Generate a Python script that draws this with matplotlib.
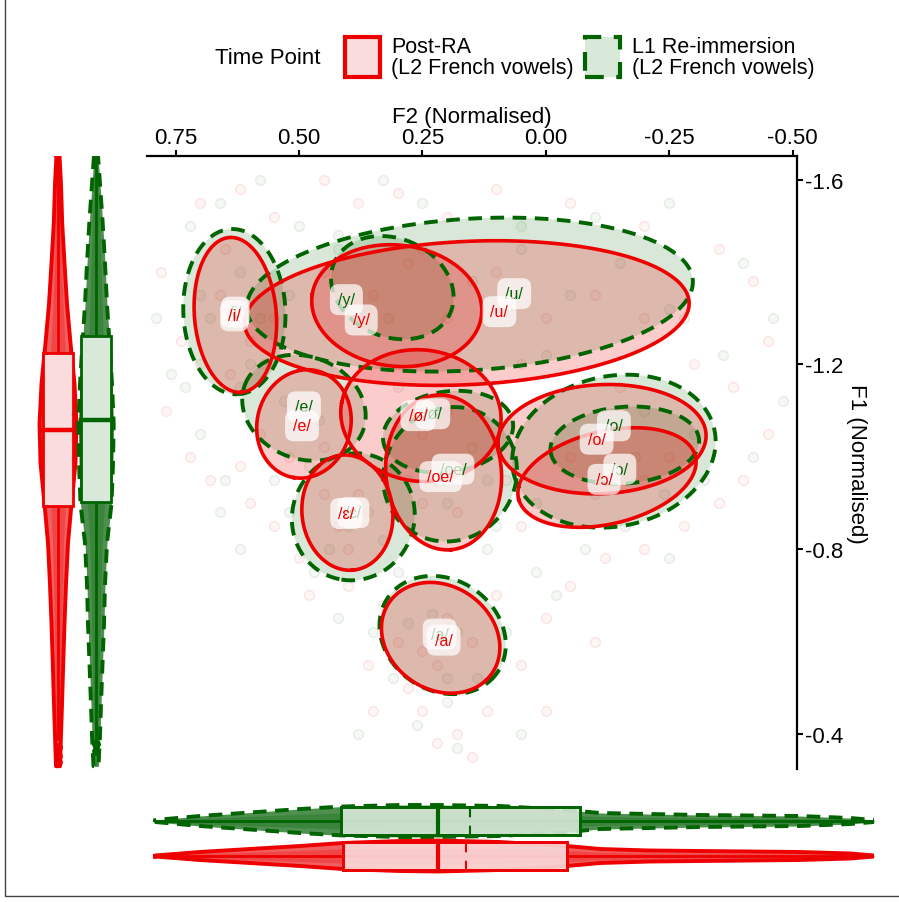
import numpy as np
import matplotlib.pyplot as plt
from matplotlib.patches import Rectangle

plt.rcParams['font.family'] = ['Liberation Sans', 'DejaVu Sans']

RED = '#ee0000'
GREEN = '#006400'

vowels = ['/i/', '/y/', '/u/', '/e/', '/ø/', '/oe/', '/ɛ/', '/a/', '/o/', '/ɔ/']

# ellipses (centre, semi-axes, angle in degrees)
post_cx = [0.629, 0.302, 0.160, 0.490, 0.253, 0.207, 0.402, 0.213, -0.114, -0.124]
post_cy = [-1.307, -1.327, -1.311, -1.071, -1.089, -0.966, -0.879, -0.608, -1.038, -0.955]
post_rx = [0.168, 0.173, 0.451, 0.118, 0.163, 0.168, 0.125, 0.130, 0.211, 0.185]
post_ry = [0.083, 0.131, 0.155, 0.095, 0.142, 0.117, 0.092, 0.109, 0.118, 0.100]
post_ang = [94, -8, 3, 80, -10, 95, 95, 135, 3, 15]

l1_cx = [0.631, 0.311, 0.154, 0.490, 0.198, 0.194, 0.390, 0.209, -0.160, -0.138]
l1_cy = [-1.314, -1.366, -1.351, -1.106, -1.054, -0.962, -0.870, -0.614, -1.025, -1.012]
l1_rx = [0.179, 0.130, 0.453, 0.130, 0.133, 0.147, 0.138, 0.138, 0.151, 0.209]
l1_ry = [0.1035, 0.105, 0.164, 0.109, 0.087, 0.134, 0.124, 0.117, 0.083, 0.162]
l1_ang = [92, -30, 4, -30, 10, 70, 80, 135, 5, 15]

# label positions (group means)
post_lx = [0.631, 0.374, 0.094, 0.494, 0.259, 0.213, 0.404, 0.207, -0.103, -0.118]
post_ly = [-1.305, -1.296, -1.314, -1.067, -1.089, -0.957, -0.877, -0.603, -1.038, -0.951]
l1_lx = [0.629, 0.404, 0.064, 0.490, 0.229, 0.188, 0.390, 0.215, -0.138, -0.150]
l1_ly = [-1.313, -1.340, -1.353, -1.108, -1.093, -0.973, -0.879, -0.616, -1.067, -0.973]

# individual tokens (approximate, as seen in the picture)
post_f2 = [0.70, 0.62, 0.55, 0.45, 0.38, 0.30, 0.20, 0.10, -0.05, -0.20, -0.35, -0.42, 0.78, 0.74,
           0.77, 0.72, 0.68, 0.60, 0.55, 0.50, 0.48, 0.40, 0.33, 0.30, 0.36, 0.28, 0.25, 0.18, 0.12,
           0.05, 0.00, -0.05, -0.12, -0.20, -0.28, -0.35, -0.40, -0.45, -0.38, -0.45, -0.30, 0.65,
           0.15, 0.22, -0.10, 0.10, 0.45, 0.58, 0.05, -0.15,
           0.66, 0.60, 0.64, 0.55, 0.45, 0.35, 0.28, 0.20, 0.10, 0.00, -0.10, -0.20, 0.50, 0.45,
           0.52, 0.30, 0.25, 0.20, 0.22, 0.18, 0.25, 0.42, 0.38, 0.40, 0.20, 0.25, 0.15, 0.22,
           -0.05, -0.15, -0.20, -0.10, 0.05, 0.08, -0.25, 0.57, 0.70, 0.62, 0.35, 0.00]
post_f1 = [-1.55, -1.58, -1.52, -1.60, -1.55, -1.57, -1.52, -1.58, -1.55, -1.50, -1.45, -1.38, -1.40,
           -1.25, -1.10, -1.00, -0.95, -0.90, -0.85, -0.78, -0.70, -0.72, -0.68, -0.60, -0.55, -0.50,
           -0.45, -0.40, -0.45, -0.55, -0.65, -0.72, -0.78, -0.80, -0.85, -0.90, -0.95, -1.05, -1.15,
           -1.25, -1.20, -1.45, -0.35, -0.38, -0.60, -0.70, -0.92, -1.05, -1.20, -1.15,
           -1.35, -1.25, -1.18, -1.30, -1.40, -1.35, -1.42, -1.30, -1.40, -1.30, -1.35, -1.30, -1.10,
           -1.02, -1.00, -1.15, -1.05, -1.10, -0.95, -0.88, -0.90, -0.85, -0.92, -0.80, -0.65, -0.58,
           -0.60, -0.55, -1.00, -1.05, -0.95, -0.92, -0.85, -0.95, -1.00, -1.20, -1.20, -0.98, -0.45,
           -0.45]
l1_f2 = [0.72, 0.66, 0.58, 0.50, 0.42, 0.33, 0.25, 0.05, -0.10, -0.25, -0.40, -0.46, 0.79, 0.76,
         0.70, 0.66, 0.62, 0.52, 0.47, 0.42, 0.35, 0.31, 0.26, 0.20, 0.14, 0.08, 0.02, -0.08, -0.16,
         -0.25, -0.32, -0.42, -0.48, -0.36, -0.28, 0.70, 0.18, -0.02, 0.12, 0.55, 0.62, 0.00, -0.20,
         0.40, 0.30,
         0.68, 0.62, 0.60, 0.52, 0.42, 0.32, 0.25, 0.15, 0.05, -0.05, -0.15, -0.25, 0.53, 0.46,
         0.48, 0.28, 0.22, 0.15, 0.20, 0.12, 0.28, 0.44, 0.36, 0.33, 0.18, 0.23, 0.28, 0.20,
         -0.08, -0.18, -0.24, -0.12, 0.02, 0.10, -0.30, 0.58, 0.73, 0.65, 0.38, 0.05]
l1_f1 = [-1.50, -1.55, -1.60, -1.50, -1.48, -1.60, -1.55, -1.50, -1.52, -1.55, -1.42, -1.30, -1.30,
         -1.18, -1.05, -0.88, -0.80, -0.88, -0.75, -0.65, -0.62, -0.52, -0.42, -0.47, -0.52, -0.62,
         -0.75, -0.80, -0.85, -0.78, -0.95, -1.00, -1.12, -1.22, -1.30, -1.35, -0.37, -0.70, -0.80,
         -0.95, -1.15, -1.22, -1.10, -0.85, -0.75,
         -1.30, -1.40, -1.20, -1.35, -1.45, -1.30, -1.45, -1.38, -1.45, -1.35, -1.42, -1.32, -1.12,
         -1.08, -0.98, -1.08, -1.12, -1.02, -0.90, -0.95, -0.95, -0.80, -0.88, -0.82, -0.62, -0.66,
         -0.64, -0.52, -1.05, -1.00, -0.92, -0.98, -0.90, -0.85, -1.05, -1.30, -1.15, -0.95, -0.40,
         -0.40]

# marginal F1 distributions (violin half-widths in px, box stats)
f1_grid = [-1.652, -1.591, -1.506, -1.419, -1.331, -1.246, -1.158, -1.071, -0.986, -0.898, -0.813,
           -0.723, -0.638, -0.551, -0.463, -0.396, -0.330]
f1_post_w = [1.5, 3, 4.2, 6.5, 9, 12.5, 16.5, 18.5, 17.5, 13.5, 10, 8, 6.5, 5.2, 4, 3, 2]
f1_l1_w = [2, 4, 6.7, 9, 11, 13.5, 16, 17.7, 17, 15.5, 11, 9, 8, 6.5, 5, 4, 2.5]
f1_post_box = [-1.645, -1.224, -1.058, -0.894, -0.39]
f1_l1_box = [-1.645, -1.262, -1.080, -0.903, -0.39]
f1_post_out = [-0.372, -0.352, -0.339]
f1_l1_out = [-0.378, -0.363]

# marginal F2 distributions
f2_grid = [0.792, 0.702, 0.601, 0.500, 0.414, 0.299, 0.223, 0.098, -0.037, -0.104, -0.204, -0.305,
           -0.405, -0.506, -0.607, -0.655]
f2_post_w = [0.5, 4, 7, 10, 13, 15, 15.5, 14, 10, 7, 5.5, 5, 4.5, 4, 2.5, 0.5]
f2_l1_w = [1, 5, 8.5, 12, 14.5, 16, 16, 15, 11, 8, 7, 6, 5.5, 5, 3, 1]
f2_post_box = [0.414, 0.223, -0.037]
f2_l1_box = [0.418, 0.223, -0.063]
f2_post_mean = 0.166
f2_l1_mean = 0.158


def ellipse(cx, cy, rx, ry, ang):
    t = np.linspace(0, 2 * np.pi, 240)
    a = np.radians(ang)
    x = cx + rx * np.cos(t) * np.cos(a) - ry * np.sin(t) * np.sin(a)
    y = cy + rx * np.cos(t) * np.sin(a) + ry * np.sin(t) * np.cos(a)
    return x, y


W, H = 899, 903
fig = plt.figure(figsize=(W / 100, H / 100), dpi=100)


def px_axes(x0, y0, x1, y1):
    return fig.add_axes([x0 / W, 1 - y1 / H, (x1 - x0) / W, (y1 - y0) / H])


dash = (0, (3.5, 2.2))

# ---- main vowel plot
ax = px_axes(147, 157, 797, 770)
ax.scatter(post_f2, post_f1, s=50, facecolor=(0.93, 0, 0, 0.04), edgecolor=(0.93, 0, 0, 0.09), lw=1)
ax.scatter(l1_f2, l1_f1, s=50, facecolor=(0, 0.39, 0, 0.04), edgecolor=(0, 0.39, 0, 0.09), lw=1)

for i in range(len(vowels)):
    x, y = ellipse(l1_cx[i], l1_cy[i], l1_rx[i], l1_ry[i], l1_ang[i])
    ax.fill(x, y, color=GREEN, alpha=0.15, lw=0)
for i in range(len(vowels)):
    x, y = ellipse(l1_cx[i], l1_cy[i], l1_rx[i], l1_ry[i], l1_ang[i])
    ax.plot(x, y, color=GREEN, lw=2.8, ls=dash)
for i in range(len(vowels)):
    x, y = ellipse(post_cx[i], post_cy[i], post_rx[i], post_ry[i], post_ang[i])
    ax.fill(x, y, color=RED, alpha=0.2, lw=0)
for i in range(len(vowels)):
    x, y = ellipse(post_cx[i], post_cy[i], post_rx[i], post_ry[i], post_ang[i])
    ax.plot(x, y, color=RED, lw=2.6)

box = dict(boxstyle='round,pad=0.5,rounding_size=0.55', fc='white', ec='none', alpha=0.72)
for i, v in enumerate(vowels):
    ax.text(l1_lx[i], l1_ly[i], v, color=GREEN, fontsize=11.5, ha='center', va='center', bbox=box)
for i, v in enumerate(vowels):
    ax.text(post_lx[i], post_ly[i], v, color=RED, fontsize=11.5, ha='center', va='center', bbox=box)

ax.set_xlim(0.808, -0.509)
ax.set_ylim(-0.324, -1.651)
ax.set_xticks([0.75, 0.5, 0.25, 0.0, -0.25, -0.5])
ax.set_xticklabels(['0.75', '0.50', '0.25', '0.00', '-0.25', '-0.50'])
ax.set_yticks([-1.6, -1.2, -0.8, -0.4])
ax.set_yticklabels(['-1.6', '-1.2', '-0.8', '-0.4'])
ax.xaxis.tick_top()
ax.xaxis.set_label_position('top')
ax.yaxis.tick_right()
ax.yaxis.set_label_position('right')
for s in ['left', 'bottom']:
    ax.spines[s].set_visible(False)
for s in ['top', 'right']:
    ax.spines[s].set_linewidth(1.6)
ax.tick_params(direction='out', length=4.5, width=1.5, labelsize=16, pad=1.5)
ax.set_xlabel('F2 (Normalised)', fontsize=16, labelpad=3)
ax.set_ylabel('F1 (Normalised)', fontsize=16, rotation=-90, va='bottom', labelpad=2)

# ---- left marginal: F1 violins
axl = px_axes(25, 157, 135, 770)
axl.set_xlim(0, 110)
axl.set_ylim(-0.324, -1.651)
axl.axis('off')
for c, w, bx, out, col, fc, fbox, ls in [
        (33, f1_post_w, f1_post_box, f1_post_out, RED, '#f06060', '#fadcdc', '-'),
        (71, f1_l1_w, f1_l1_box, f1_l1_out, GREEN, '#4f8f4f', '#d9e9d9', dash)]:
    w = np.array(w)
    axl.fill_betweenx(f1_grid, c - w, c + w, color=fc, lw=0)
    axl.fill_betweenx(f1_grid, c - 0.55 * w, c + 0.55 * w, color=col, alpha=0.25, lw=0)
    xs = np.concatenate([c - w, (c + w)[::-1], [c - w[0]]])
    ys = np.concatenate([f1_grid, f1_grid[::-1], [f1_grid[0]]])
    axl.plot(xs, ys, color=col, lw=2.8, ls=ls)
    axl.plot([c, c], [bx[0], bx[4]], color=col, lw=2)
    axl.add_patch(Rectangle((c - 15, bx[1]), 30, bx[3] - bx[1], fc=fbox, ec=col, lw=2, zorder=3))
    axl.plot([c - 15, c + 15], [bx[2], bx[2]], color=col, lw=3.2, zorder=4)
    axl.scatter([c] * len(out), out, s=28, color=col, zorder=4)

# ---- bottom marginal: F2 violins
axb = px_axes(147, 800, 874, 885)
axb.set_xlim(0.808, -0.655)
axb.set_ylim(0, 85)
axb.axis('off')
for c, w, bx, mean, col, fc, fbox, ls in [
        (63, f2_l1_w, f2_l1_box, f2_l1_mean, GREEN, '#4f8f4f', '#d9e9d9', dash),
        (28, f2_post_w, f2_post_box, f2_post_mean, RED, '#f06060', '#fadcdc', '-')]:
    w = np.array(w)
    axb.fill_between(f2_grid, c - w, c + w, color=fc, lw=0)
    axb.fill_between(f2_grid, c - 0.55 * w, c + 0.55 * w, color=col, alpha=0.25, lw=0)
    xs = np.concatenate([f2_grid, f2_grid[::-1], [f2_grid[0]]])
    ys = np.concatenate([c - w, (c + w)[::-1], [c - w[0]]])
    axb.plot(xs, ys, color=col, lw=2.8, ls=ls)
    axb.plot([f2_grid[0], f2_grid[-1]], [c, c], color=col, lw=2)
    axb.add_patch(Rectangle((bx[0], c - 14), bx[2] - bx[0], 28, fc=fbox, ec=col, lw=2, alpha=0.9, zorder=3))
    axb.add_patch(Rectangle((bx[0], c - 14), bx[2] - bx[0], 28, fill=False, ec=col, lw=2, zorder=4))
    axb.plot([bx[1], bx[1]], [c - 14, c + 14], color=col, lw=3, zorder=4)
    axb.plot([mean, mean], [c - 13, c + 13], color=col, lw=1.5, ls=(0, (4, 4)), zorder=4)

# ---- legend
fig.text(268 / W, 1 - 58 / H, 'Time Point', fontsize=16, ha='center', va='center')
fig.patches.append(Rectangle((345 / W, 1 - 78 / H), 35 / W, 40 / H, transform=fig.transFigure,
                             fc='#fadcdc', ec=RED, lw=3))
fig.patches.append(Rectangle((585 / W, 1 - 78 / H), 35 / W, 40 / H, transform=fig.transFigure,
                             fc='#d9e9d9', ec=GREEN, lw=3, ls=(0, (4.5, 3))))
fig.text(391 / W, 1 - 58 / H, 'Post-RA\n(L2 French vowels)', fontsize=15.5, ha='left', va='center',
         linespacing=1.0)
fig.text(632 / W, 1 - 58 / H, 'L1 Re-immersion\n(L2 French vowels)', fontsize=15.5, ha='left',
         va='center', linespacing=1.0)

fig.patches.append(Rectangle((5 / W, 6 / H), 1, 1, transform=fig.transFigure, fill=False,
                             ec='#444444', lw=1))

fig.savefig('out.png', dpi=100)
